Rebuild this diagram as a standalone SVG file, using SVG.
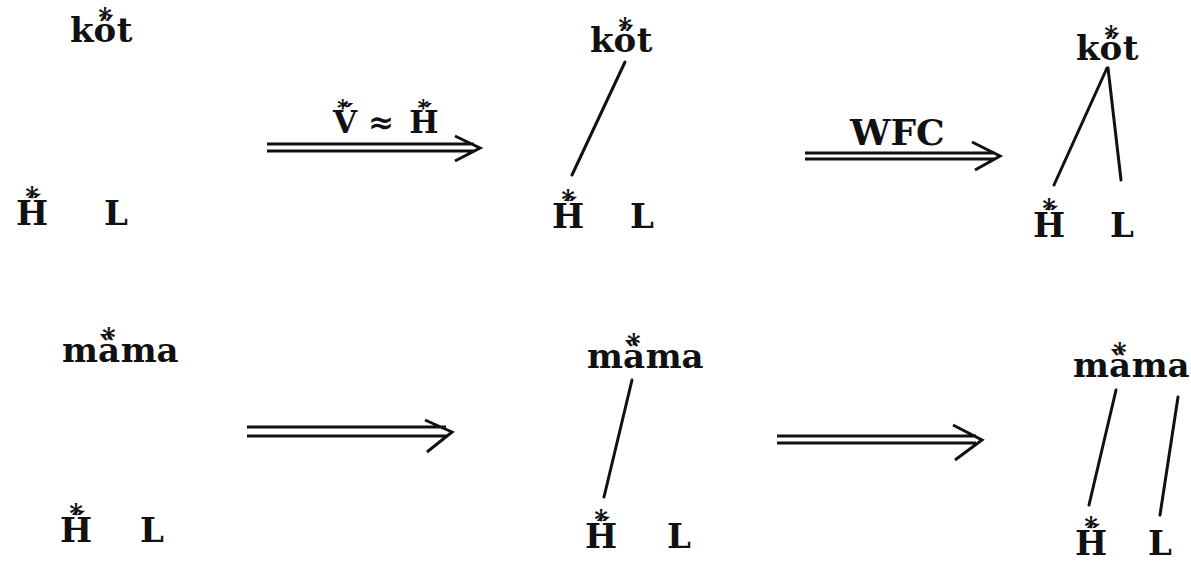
<svg xmlns="http://www.w3.org/2000/svg" width="1191" height="562" viewBox="0 0 1191 562">
<style>
.t{font-family:"DejaVu Serif","Liberation Serif",serif;font-weight:bold;font-size:34px;fill:#111}
.s{font-size:26px}
.l{stroke:#111;stroke-width:3;fill:none;stroke-linecap:round}
.a{stroke:#111;stroke-width:3;fill:none;stroke-linejoin:miter}
</style>
<rect width="1191" height="562" fill="#fff"/>
<g id="r1-left">
<text class="t" x="70" y="42">kő<tspan class="s" dx="-18" dy="-16">*</tspan><tspan dx="5" dy="16">t</tspan></text>
<text class="t" x="16" y="225">H̋<tspan class="s" dx="-23" dy="-20">*</tspan></text>
<text class="t" x="104" y="225">L</text>
</g>
<g id="r1-mid">
<text class="t" x="590" y="52">kő<tspan class="s" dx="-18" dy="-16">*</tspan><tspan dx="5" dy="16">t</tspan></text>
<text class="t" x="552" y="228">H̋<tspan class="s" dx="-23" dy="-20">*</tspan></text>
<text class="t" x="630" y="228">L</text>
</g>
<g id="r1-right">
<text class="t" x="1076" y="60">kő<tspan class="s" dx="-18" dy="-16">*</tspan><tspan dx="5" dy="16">t</tspan></text>
<text class="t" x="1033" y="237">H̋<tspan class="s" dx="-23" dy="-20">*</tspan></text>
<text class="t" x="1110" y="237">L</text>
</g>
<g id="r2-left">
<text class="t" x="62" y="362">mȁ<tspan class="s" dx="-18" dy="-16">*</tspan><tspan dx="5" dy="16">ma</tspan></text>
<text class="t" x="60" y="542">H̋<tspan class="s" dx="-23" dy="-20">*</tspan></text>
<text class="t" x="140" y="542">L</text>
</g>
<g id="r2-mid">
<text class="t" x="587" y="368">mȁ<tspan class="s" dx="-18" dy="-16">*</tspan><tspan dx="5" dy="16">ma</tspan></text>
<text class="t" x="585" y="548">H̋<tspan class="s" dx="-23" dy="-20">*</tspan></text>
<text class="t" x="667" y="548">L</text>
</g>
<g id="r2-right">
<text class="t" x="1073" y="377">mȁ<tspan class="s" dx="-18" dy="-16">*</tspan><tspan dx="5" dy="16">ma</tspan></text>
<text class="t" x="1075" y="555">H̋<tspan class="s" dx="-23" dy="-20">*</tspan></text>
<text class="t" x="1148" y="555">L</text>
</g>
<g id="arrow-labels">
<text class="t" x="333" y="133" style="font-size:31px">V̋<tspan class="s" dx="-20" dy="-18" style="font-size:22px">*</tspan><tspan dx="9" dy="18"> ≈ </tspan><tspan dx="4">H̋</tspan><tspan class="s" dx="-21" dy="-18" style="font-size:22px">*</tspan></text>
<text class="t" x="850" y="145" style="font-size:36px">WFC</text>
</g>
<g id="connectors">
<line class="l" x1="625" y1="62" x2="572" y2="175"/>
<line class="l" x1="1107" y1="68" x2="1054" y2="185"/>
<line class="l" x1="1108" y1="68" x2="1121" y2="180"/>
<line class="l" x1="632" y1="380" x2="604" y2="497"/>
<line class="l" x1="1116" y1="390" x2="1089" y2="505"/>
<line class="l" x1="1178" y1="397" x2="1160" y2="515"/>
<path class="a" d="M267 144H474M267 151H474M455 136L480 148L455 161"/>
<path class="a" d="M805 153H995M805 159H995M972 142L1000 156L975 170"/>
<path class="a" d="M247 427H446M247 436H446M425 420L452 432L427 452"/>
<path class="a" d="M777 436H976M777 443H976M953 425L982 440L955 460"/>
</g>
</svg>
